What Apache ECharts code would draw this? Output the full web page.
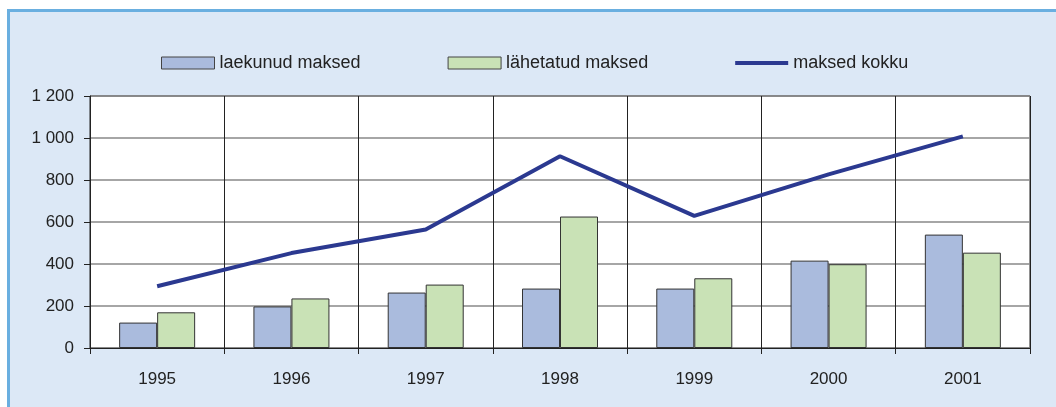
<!DOCTYPE html>
<html>
<head>
<meta charset="utf-8">
<script src="https://cdn.jsdelivr.net/npm/echarts@6/dist/echarts.min.js"></script>
<style>
html,body{margin:0;padding:0;background:#fff;}
#c{width:1056px;height:407px;}
</style>
</head>
<body>
<div id="c"></div>
<script>
const categories = ['1995','1996','1997','1998','1999','2000','2001'];
const laekunud = [121, 198, 264, 283, 283, 416, 540];
const lahetatud = [170, 236, 302, 626, 332, 399, 454];
const kokku = [294, 452, 564, 913, 629, 827, 1008];
const seriesNames = ['laekunud maksed', 'lähetatud maksed', 'maksed kokku'];

const chart = echarts.init(document.getElementById('c'));
const font = 'Liberation Sans, Arial, sans-serif';
const lineIcon = 'path://M0,0 L0.01,0 L0,0.01 Z M0,4 L53,4 L53,8 L0,8 Z M0,12 L0.01,12 L0,11.99 Z';
chart.setOption({
  animation: false,
  backgroundColor: '#fff',
  graphic: [{
    type: 'rect', z: -10, silent: true,
    shape: {x: 8.5, y: 10.5, width: 1100, height: 450},
    style: {fill: '#dce8f6', stroke: '#6aafe0', lineWidth: 3}
  }],
  legend: {
    left: 156, top: 49,
    itemWidth: 53, itemHeight: 12, itemGap: 87,
    textStyle: {fontSize: 18, color: '#222', fontFamily: font},
    data: [
      {name: seriesNames[0], icon: 'rect', itemStyle: {color: '#aabbdd', borderColor: '#444', borderWidth: 1}},
      {name: seriesNames[1], icon: 'rect', itemStyle: {color: '#c9e2b6', borderColor: '#444', borderWidth: 1}},
      {name: seriesNames[2], icon: lineIcon, itemStyle: {color: '#2b3990', borderWidth: 0}, lineStyle: {width: 0}}
    ]
  },
  grid: {
    left: 90, right: 26, top: 96, bottom: 59,
    show: true, backgroundColor: '#fff', borderColor: '#222', borderWidth: 1
  },
  xAxis: {
    type: 'category', data: categories,
    axisLine: {lineStyle: {color: '#222', width: 1}},
    axisTick: {show: true, length: 6, interval: 0, lineStyle: {color: '#222'}},
    axisLabel: {fontSize: 17, color: '#222', margin: 23, fontFamily: font},
    splitLine: {show: true, interval: 0, lineStyle: {color: '#222', width: 1}}
  },
  yAxis: {
    type: 'value', min: 0, max: 1200, interval: 200,
    axisLine: {show: true, lineStyle: {color: '#222', width: 1}},
    axisTick: {show: true, length: 6, lineStyle: {color: '#222'}},
    axisLabel: {fontSize: 17, color: '#222', margin: 16, fontFamily: font,
      formatter: v => String(v).replace(/\B(?=(\d{3})+(?!\d))/g, ' ')},
    splitLine: {show: true, lineStyle: {color: '#888', width: 1.5}}
  },
  series: [
    {name: seriesNames[0], type: 'bar', data: laekunud, barWidth: 38, barGap: '0%',
     itemStyle: {color: '#aabbdd', borderColor: '#333', borderWidth: 1}},
    {name: seriesNames[1], type: 'bar', data: lahetatud, barWidth: 38,
     itemStyle: {color: '#c9e2b6', borderColor: '#333', borderWidth: 1}},
    {name: seriesNames[2], type: 'line', data: kokku, symbol: 'none',
     lineStyle: {color: '#2b3990', width: 4}, itemStyle: {color: '#2b3990'}}
  ]
});
</script>
</body>
</html>
